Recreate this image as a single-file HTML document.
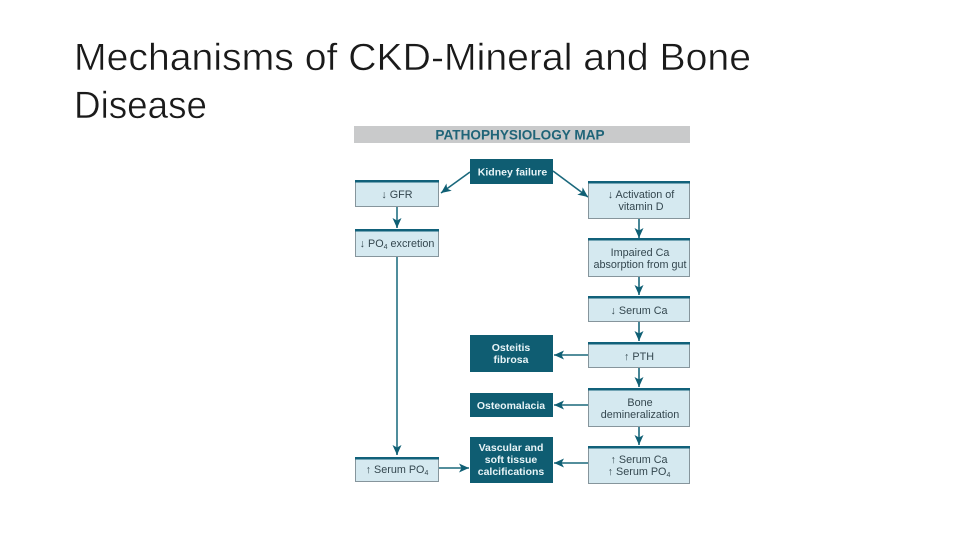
<!DOCTYPE html>
<html>
<head>
<meta charset="utf-8">
<style>
html,body{margin:0;padding:0;background:#fff;width:960px;height:540px;overflow:hidden}
svg{display:block}
.t{font-family:"Liberation Sans",sans-serif;font-size:38px;fill:#1a1a1a;stroke:#fff;stroke-width:.5px}
.b{font-family:"Liberation Sans",sans-serif;font-size:10.8px;fill:#34474f;text-anchor:middle}
.w{font-family:"Liberation Sans",sans-serif;font-size:10.5px;font-weight:bold;fill:#e8f4f7;text-anchor:middle}
.h{font-family:"Liberation Sans",sans-serif;font-size:13.6px;font-weight:bold;fill:#1f6478;text-anchor:middle}
.s{font-size:7px}
.d{filter:blur(.35px)}
</style>
</head>
<body>
<svg width="960" height="540" viewBox="0 0 960 540" xmlns="http://www.w3.org/2000/svg">
<defs>
<marker id="a" markerWidth="11" markerHeight="10" refX="10" refY="5" orient="auto" markerUnits="userSpaceOnUse">
<path d="M0 .5L10 5L0 9.500L2.500 5Z" fill="#0f5f74"/>
</marker>
</defs>

<text class="t" x="74" y="70" textLength="677" lengthAdjust="spacingAndGlyphs">Mechanisms of CKD-Mineral and Bone</text>
<text class="t" x="74" y="118" textLength="133" lengthAdjust="spacingAndGlyphs">Disease</text>

<g class="d">
<rect x="354" y="126" width="336" height="17" fill="#c9cacb"/>
<text class="h" x="520" y="139.500">PATHOPHYSIOLOGY MAP</text>

<!-- connectors -->
<g stroke="#1a687c" stroke-width="1.600" fill="none" marker-end="url(#a)">
<path d="M470 172L441 193"/>
<path d="M553 171L588 197"/>
<path d="M397 207V228" stroke="#4f8d9c" stroke-width="2"/>
<path d="M639 219V238"/>
<path d="M397 257V455" stroke="#4f8d9c" stroke-width="2"/>
<path d="M639 277V295"/>
<path d="M639 322V341"/>
<path d="M588 355H554"/>
<path d="M639 367V387"/>
<path d="M588 405H554"/>
<path d="M639 427V445"/>
<path d="M588 463H554"/>
<path d="M439 468H469"/>
</g>

<!-- dark boxes -->
<g fill="#0f5d72">
<rect x="470" y="159" width="83" height="25"/>
<rect x="470" y="335" width="83" height="37"/>
<rect x="470" y="393" width="83" height="24"/>
<rect x="470" y="437" width="83" height="46"/>
</g>

<!-- light boxes -->
<g fill="#d5e9f0" stroke="#86959c" stroke-width="1">
<rect x="355.500" y="180.500" width="83" height="26"/>
<rect x="355.500" y="229.500" width="83" height="27"/>
<rect x="355.500" y="457.500" width="83" height="24"/>
<rect x="588.500" y="181.500" width="101" height="37"/>
<rect x="588.500" y="238.500" width="101" height="38"/>
<rect x="588.500" y="296.500" width="101" height="25"/>
<rect x="588.500" y="342.500" width="101" height="25"/>
<rect x="588.500" y="388.500" width="101" height="38"/>
<rect x="588.500" y="446.500" width="101" height="37"/>
</g>
<g fill="#11617a">
<rect x="355" y="180" width="84" height="2.500"/>
<rect x="355" y="229" width="84" height="2.500"/>
<rect x="355" y="457" width="84" height="2.500"/>
<rect x="588" y="181" width="102" height="2.500"/>
<rect x="588" y="238" width="102" height="2.500"/>
<rect x="588" y="296" width="102" height="2.500"/>
<rect x="588" y="342" width="102" height="2.500"/>
<rect x="588" y="388" width="102" height="2.500"/>
<rect x="588" y="446" width="102" height="2.500"/>
</g>

<!-- dark box text -->
<text class="w" x="512.500" y="175.500">Kidney failure</text>
<text class="w" x="511" y="351">Osteitis</text>
<text class="w" x="511" y="363">fibrosa</text>
<text class="w" x="511" y="409">Osteomalacia</text>
<text class="w" x="511" y="451">Vascular and</text>
<text class="w" x="511" y="463">soft tissue</text>
<text class="w" x="511" y="475">calcifications</text>

<!-- light box text -->
<text class="b" x="397" y="198">↓ GFR</text>
<text class="b" x="397" y="247">↓ PO<tspan class="s" dy="2">4</tspan><tspan dy="-2"> excretion</tspan></text>
<text class="b" x="397" y="473">↑ Serum PO<tspan class="s" dy="2">4</tspan></text>
<text class="b" x="641" y="198">↓ Activation of</text>
<text class="b" x="641" y="210">vitamin D</text>
<text class="b" x="640" y="256">Impaired Ca</text>
<text class="b" x="640" y="268">absorption from gut</text>
<text class="b" x="639" y="314">↓ Serum Ca</text>
<text class="b" x="639" y="360">↑ PTH</text>
<text class="b" x="640" y="406">Bone</text>
<text class="b" x="640" y="418">demineralization</text>
<text class="b" x="639" y="463">↑ Serum Ca</text>
<text class="b" x="639" y="475">↑ Serum PO<tspan class="s" dy="2">4</tspan></text>
</g>
</svg>
</body>
</html>
